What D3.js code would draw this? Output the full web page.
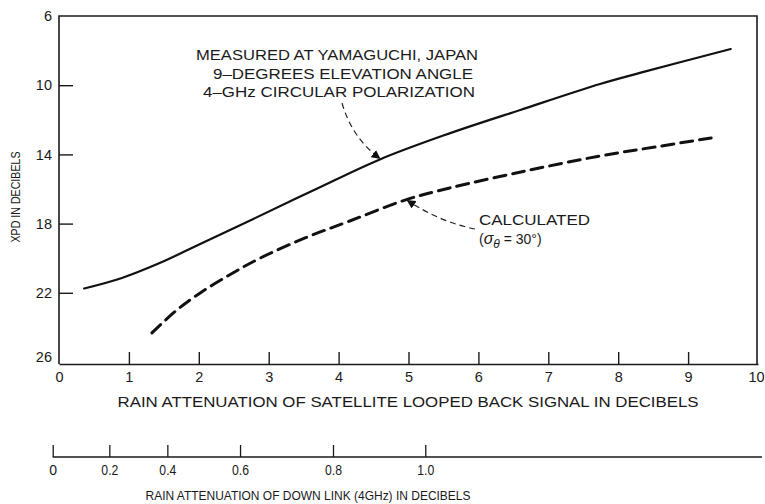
<!DOCTYPE html>
<html>
<head>
<meta charset="utf-8">
<script src="https://cdn.jsdelivr.net/npm/d3@7"></script>
<style>
  body { margin: 0; background: #fff; }
  text { font-family: "Liberation Sans", Arial, sans-serif; fill: #1a1a1a; }
</style>
</head>
<body>
<script>
const width = 765;
const height = 504;

// loop-back attenuation (dB) vs XPD (dB)
const measuredX = [0.36, 0.9, 1.44, 2.02, 2.78, 3.68, 4.59, 5.52, 6.6, 7.74, 8.31, 9.61];
const measuredY = [21.75, 21.14, 20.28, 19.18, 17.73, 16.0, 14.29, 12.88, 11.43, 9.93, 9.29, 7.91];

const calcX = [1.33, 1.67, 2.02, 2.45, 2.88, 3.52, 4.16, 4.95, 5.59, 6.67, 7.74, 8.53, 9.33];
const calcY = [24.32, 23.05, 22.01, 20.94, 19.99, 18.83, 17.85, 16.64, 15.94, 14.96, 14.09, 13.57, 13.05];

const xTicks = [0, 1, 2, 3, 4, 5, 6, 7, 8, 9, 10];
const yTicks = [6, 10, 14, 18, 22, 26];

// down-link attenuation ticks and where they sit on the loop-back scale
const downTicks = [0, 0.2, 0.4, 0.6, 0.8, 1.0];
const downAtLoop = [-0.09, 0.72, 1.55, 2.59, 3.92, 5.24];

const svg = d3.select("body").append("svg")
    .attr("width", width)
    .attr("height", height);

const x = d3.scaleLinear().domain([0, 10]).range([59, 758]);
const y = d3.scaleLinear().domain([6, 26]).range([16, 362]);
const xd = d3.scaleLinear().domain(downTicks).range(downAtLoop.map(x));

const ink = "#1a1a1a";

// frame (top, right)
svg.append("path")
    .attr("d", `M${x(0)},${y(26) + 2}V${y(6)}H${x(10) - 1}V${y(26) + 2}`)
    .attr("fill", "none")
    .attr("stroke", ink)
    .attr("stroke-width", 1.6);

// x axis
const gx = svg.append("g")
    .attr("transform", `translate(0,${y(26) + 2})`)
    .call(d3.axisBottom(x).tickValues(xTicks).tickSize(-12).tickSizeOuter(0).tickPadding(8).tickFormat(d3.format("d")));
gx.select(".domain").attr("stroke", ink).attr("stroke-width", 1.6);
gx.selectAll(".tick line").attr("stroke", ink).attr("stroke-width", 1.4)
    .attr("display", d => (d === 0 || d === 10) ? "none" : null);
gx.selectAll(".tick text").style("font-size", "14.5px").attr("fill", ink)
    .attr("dx", d => d === 10 ? -2 : 0);

// y axis
const gy = svg.append("g")
    .attr("transform", `translate(${x(0)},0)`)
    .call(d3.axisLeft(y).tickValues(yTicks).tickSize(-14).tickSizeOuter(0).tickPadding(7));
gy.select(".domain").remove();
gy.selectAll(".tick line").attr("stroke", ink).attr("stroke-width", 1.4)
    .attr("display", d => (d === 6 || d === 26) ? "none" : null);
gy.selectAll(".tick text").style("font-size", "14.5px").attr("fill", ink)
    .attr("dy", d => d === 26 ? "-0.05em" : "0.32em");

// down-link axis
const yDown = 457;
svg.append("line")
    .attr("x1", xd(0)).attr("x2", 762)
    .attr("y1", yDown).attr("y2", yDown)
    .attr("stroke", ink).attr("stroke-width", 1.4);
const gd = svg.append("g")
    .attr("transform", `translate(0,${yDown})`)
    .call(d3.axisBottom(xd).tickValues(downTicks).tickSize(-12).tickSizeOuter(0).tickPadding(8)
        .tickFormat(d => d === 0 ? "0" : d3.format(".1f")(d)));
gd.select(".domain").remove();
gd.selectAll(".tick line").attr("stroke", ink).attr("stroke-width", 1.3);
gd.selectAll(".tick text").style("font-size", "14px").attr("fill", ink)
    .attr("textLength", d => d === 0 ? null : 17)
    .attr("lengthAdjust", "spacingAndGlyphs");

// axis titles
svg.append("text")
    .attr("x", 408).attr("y", 407)
    .attr("text-anchor", "middle")
    .attr("textLength", 581).attr("lengthAdjust", "spacingAndGlyphs")
    .style("font-size", "14.5px")
    .text("RAIN ATTENUATION OF SATELLITE LOOPED BACK SIGNAL IN DECIBELS");

svg.append("text")
    .attr("x", 308).attr("y", 500)
    .attr("text-anchor", "middle")
    .attr("textLength", 325).attr("lengthAdjust", "spacingAndGlyphs")
    .style("font-size", "13.5px")
    .text("RAIN ATTENUATION OF DOWN LINK (4GHz) IN DECIBELS");

svg.append("text")
    .attr("transform", "translate(20,197) rotate(-90)")
    .attr("text-anchor", "middle")
    .attr("textLength", 91).attr("lengthAdjust", "spacingAndGlyphs")
    .style("font-size", "13.5px")
    .text("XPD IN DECIBELS");

// curves
const line = d3.line().x(d => x(d[0])).y(d => y(d[1])).curve(d3.curveCatmullRom);

svg.append("path")
    .datum(d3.zip(measuredX, measuredY))
    .attr("d", line)
    .attr("fill", "none")
    .attr("stroke", "#111")
    .attr("stroke-width", 2.2)
    .attr("stroke-linecap", "round");

svg.append("path")
    .datum(d3.zip(calcX, calcY))
    .attr("d", line)
    .attr("fill", "none")
    .attr("stroke", "#111")
    .attr("stroke-width", 3)
    .attr("stroke-dasharray", "12,7")
    .attr("stroke-linecap", "round");

// arrow marker
svg.append("defs").append("marker")
    .attr("id", "arrow")
    .attr("viewBox", "0 0 10 10")
    .attr("refX", 9).attr("refY", 5)
    .attr("markerWidth", 9).attr("markerHeight", 9)
    .attr("markerUnits", "userSpaceOnUse")
    .attr("orient", "auto")
    .append("path")
    .attr("d", "M0,0L10,5L0,10z")
    .attr("fill", "#111");

// annotation: measured
const noteLines = [
    { t: "MEASURED AT YAMAGUCHI, JAPAN", cx: 337, len: 282 },
    { t: "9\u2013DEGREES ELEVATION ANGLE", cx: 343, len: 260 },
    { t: "4\u2013GHz CIRCULAR POLARIZATION", cx: 339, len: 272 }
];
svg.selectAll(".note")
    .data(noteLines)
    .enter().append("text")
    .attr("class", "note")
    .attr("x", d => d.cx)
    .attr("y", (d, i) => 60 + i * 18.5)
    .attr("text-anchor", "middle")
    .attr("textLength", d => d.len).attr("lengthAdjust", "spacingAndGlyphs")
    .style("font-size", "14px")
    .text(d => d.t);

svg.append("path")
    .attr("d", `M342,103 Q352,138 ${x(4.59)},${y(14.29) - 1}`)
    .attr("fill", "none")
    .attr("stroke", "#222")
    .attr("stroke-width", 1.2)
    .attr("stroke-dasharray", "6,4")
    .attr("marker-end", "url(#arrow)");

// annotation: calculated
svg.append("text")
    .attr("x", 479).attr("y", 225)
    .attr("textLength", 111).attr("lengthAdjust", "spacingAndGlyphs")
    .style("font-size", "14px")
    .text("CALCULATED");

const sig = svg.append("text")
    .attr("x", 479).attr("y", 244)
    .style("font-size", "14px");
sig.append("tspan").text("(");
sig.append("tspan").style("font-style", "italic").style("font-size", "16px").text("\u03c3");
sig.append("tspan").style("font-style", "italic").attr("dy", 4).style("font-size", "12px").text("\u03b8");
sig.append("tspan").attr("dy", -4).text(" = 30\u00b0)");

svg.append("path")
    .attr("d", `M475,229 Q440,222 ${x(4.97) + 1},${y(16.6) + 1}`)
    .attr("fill", "none")
    .attr("stroke", "#222")
    .attr("stroke-width", 1.2)
    .attr("stroke-dasharray", "6,4")
    .attr("marker-end", "url(#arrow)");
</script>
</body>
</html>
